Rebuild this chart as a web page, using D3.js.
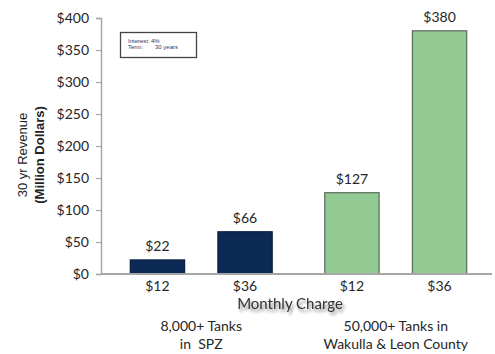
<!DOCTYPE html>
<html>
<head>
<meta charset="utf-8">
<script src="https://cdn.jsdelivr.net/npm/d3@7"></script>
<style>
  body { margin: 0; background: #fff; }
  svg { display: block; }
</style>
</head>
<body>
<svg id="chart" width="495" height="354"></svg>
<script>
// Revenue over 30 years by monthly charge, for two service areas
const groups = ["8,000+ Tanks\nin  SPZ", "50,000+ Tanks in\nWakulla & Leon County"];
const charges = ["$12", "$36"];
const revenue = [
  [22, 66],    // SPZ
  [127, 380]   // Wakulla & Leon County
];
const groupColors = ["#0d2a56", "#93c993"];
const groupStrokes = ["#0a1f40", "#5a6a5a"];
const yTicks = [0, 50, 100, 150, 200, 250, 300, 350, 400];
const noteLines = [["Interest:", "4%"], ["Term:", "30 years"]];

const svg = d3.select("#chart");
const font = "Lato, 'Open Sans', sans-serif";

const x0 = d3.scaleBand().domain(d3.range(groups.length)).range([104, 493]);
const x1 = d3.scaleBand().domain(charges).range([0, x0.bandwidth()])
  .paddingInner(0.38).paddingOuter(0.3);
const y = d3.scaleLinear().domain([0, 400]).range([274, 18]);

// soft shadow used behind the x-axis title
const defs = svg.append("defs");
const f = defs.append("filter").attr("id", "shadow").attr("x", "-10%").attr("y", "-30%")
  .attr("width", "130%").attr("height", "180%");
f.append("feGaussianBlur").attr("in", "SourceAlpha").attr("stdDeviation", 1.6).attr("result", "b");
f.append("feOffset").attr("in", "b").attr("dx", 2).attr("dy", 3).attr("result", "o");
f.append("feComponentTransfer").attr("in", "o").attr("result", "t")
  .append("feFuncA").attr("type", "linear").attr("slope", 0.45);
const m = f.append("feMerge");
m.append("feMergeNode").attr("in", "t");
m.append("feMergeNode").attr("in", "SourceGraphic");

// y axis
const yAxis = svg.append("g").attr("transform", "translate(101,0)")
  .call(d3.axisLeft(y).tickValues(yTicks).tickSize(5).tickPadding(7).tickFormat(d => "$" + d));
yAxis.select(".domain").attr("stroke", "#a6a6a6").attr("stroke-width", 1.5);
yAxis.selectAll(".tick line").attr("stroke", "#a6a6a6").attr("stroke-width", 1.2);
yAxis.selectAll(".tick text").attr("fill", "#262626").attr("font-size", 14).attr("font-family", font);

// bars
const gBars = svg.append("g");
revenue.forEach((vals, gi) => {
  const g = gBars.append("g").attr("transform", `translate(${x0(gi)},0)`);
  g.selectAll("rect").data(vals).join("rect")
    .attr("x", (d, i) => x1(charges[i]))
    .attr("width", x1.bandwidth())
    .attr("y", d => y(d))
    .attr("height", d => y(0) - y(d))
    .attr("fill", groupColors[gi])
    .attr("stroke", groupStrokes[gi])
    .attr("stroke-width", 1.2);
  g.selectAll("text.val").data(vals).join("text")
    .attr("class", "val")
    .attr("x", (d, i) => x1(charges[i]) + x1.bandwidth() / 2)
    .attr("y", d => y(d) - 9)
    .attr("text-anchor", "middle")
    .attr("font-family", font).attr("font-size", 14).attr("fill", "#262626")
    .text(d => "$" + d);
  g.selectAll("text.cat").data(charges).join("text")
    .attr("class", "cat")
    .attr("x", c => x1(c) + x1.bandwidth() / 2)
    .attr("y", 291)
    .attr("text-anchor", "middle")
    .attr("font-family", font).attr("font-size", 14).attr("fill", "#262626")
    .text(c => c);
  // group label
  const lines = groups[gi].split("\n");
  svg.append("text")
    .attr("x", x0(gi) + x0.bandwidth() / 2)
    .attr("y", 331)
    .attr("text-anchor", "middle")
    .attr("font-family", font).attr("font-size", 14).attr("fill", "#262626")
    .selectAll("tspan").data(lines).join("tspan")
    .attr("x", x0(gi) + x0.bandwidth() / 2)
    .attr("dy", (d, i) => i ? 18 : 0)
    .attr("xml:space", "preserve")
    .text(d => d);
});

// baseline
svg.append("line").attr("x1", 101).attr("x2", 492).attr("y1", y(0)).attr("y2", y(0))
  .attr("stroke", "#a6a6a6").attr("stroke-width", 2);

// x axis title
svg.append("text").attr("x", 290).attr("y", 309).attr("text-anchor", "middle")
  .attr("font-family", font).attr("font-size", 15).attr("fill", "#333")
  .attr("filter", "url(#shadow)")
  .text("Monthly Charge");

// y axis title
const yt = svg.append("text").attr("transform", "translate(0,155) rotate(-90)")
  .attr("text-anchor", "middle").attr("font-family", "'Liberation Sans', Arial, sans-serif")
  .attr("font-size", 13).attr("fill", "#222");
yt.append("tspan").attr("x", 0).attr("y", 27).text("30 yr  Revenue");
yt.append("tspan").attr("x", 0).attr("y", 44).attr("font-weight", "bold").text("(Million Dollars)");

// note box
svg.append("rect").attr("x", 120.5).attr("y", 32.5).attr("width", 76).attr("height", 25)
  .attr("fill", "#fff").attr("stroke", "#444").attr("stroke-width", 1.3);
const note = svg.append("g").attr("font-family", "'Liberation Sans', Arial, sans-serif")
  .attr("font-size", 6).attr("fill", "#1f3b70");
noteLines.forEach((l, i) => {
  note.append("text").attr("x", 128).attr("y", 43 + i * 6).text(l[0]);
  note.append("text").attr("x", i ? 155 : 151).attr("y", 43 + i * 6).text(l[1]);
});
</script>
</body>
</html>
